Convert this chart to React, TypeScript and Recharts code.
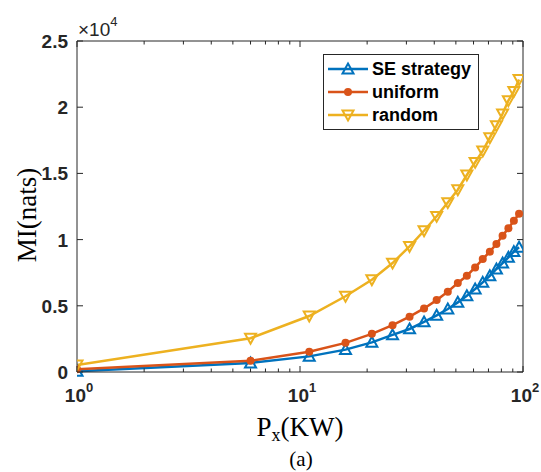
import { LineChart, Line, XAxis, YAxis, ReferenceLine, Legend } from 'recharts';

// Px (KW) sample points
const xValues = [1, 6, 11, 16, 21, 26, 31, 36, 41, 46, 51, 56, 61, 66, 71, 76, 81, 86, 91, 96];

const seStrategy = [50, 680, 1180, 1690, 2240, 2800, 3250, 3780, 4280, 4760, 5260, 5760, 6270, 6770, 7270, 7780, 8230, 8660, 9090, 9420];
const uniform = [200, 850, 1530, 2200, 2880, 3540, 4180, 4800, 5430, 6070, 6720, 7270, 7900, 8530, 9090, 9670, 10300, 10850, 11430, 11950];
const random = [530, 2550, 4230, 5720, 6970, 8230, 9490, 10670, 11760, 12800, 13770, 14880, 15840, 16700, 17700, 18600, 19500, 20500, 21200, 22100];

const xTicks = [1, 2, 3, 4, 5, 6, 7, 8, 9, 10, 20, 30, 40, 50, 60, 70, 80, 90, 100];
const xMajor = [1, 10, 100];
const yTicks = [0, 5000, 10000, 15000, 20000, 25000];
const yTickLabels = ['0', '0.5', '1', '1.5', '2', '2.5'];

const BLUE = '#0072BD';
const ORANGE = '#D95319';
const YELLOW = '#EDB120';
const AXIS = '#262626';
const SANS = '"Liberation Sans", Arial, Helvetica, sans-serif';
const SERIF = '"Liberation Serif", "Times New Roman", serif';

const PLOT_W = 446;
const PLOT_H = 331;

const data = xValues.map((x, i) => ({
  x,
  se: seStrategy[i],
  uniform: uniform[i],
  random: random[i],
}));

function UpTri({ cx, cy, color }: { cx: number; cy: number; color: string }) {
  const s = 5.5;
  return (
    <path
      d={`M${cx},${cy - s} L${cx + s},${cy + s * 0.8} L${cx - s},${cy + s * 0.8} Z`}
      fill="none"
      stroke={color}
      strokeWidth={2}
    />
  );
}

function DownTri({ cx, cy, color }: { cx: number; cy: number; color: string }) {
  const s = 5.5;
  return (
    <path
      d={`M${cx},${cy + s} L${cx + s},${cy - s * 0.8} L${cx - s},${cy - s * 0.8} Z`}
      fill="none"
      stroke={color}
      strokeWidth={2}
    />
  );
}

function XTick(props: any) {
  const { x, y, payload } = props;
  const v = payload.value;
  const major = xMajor.includes(v);
  const len = major ? 6 : 3.5;
  return (
    <g>
      <line x1={x} y1={y} x2={x} y2={y - len} stroke={AXIS} strokeWidth={1} />
      <line x1={x} y1={y - PLOT_H} x2={x} y2={y - PLOT_H + len} stroke={AXIS} strokeWidth={1} />
      {major && (
        <text x={x + 2} y={y + 30} textAnchor="middle" fontFamily={SANS} fontWeight="bold" fontSize={19} fill={AXIS}>
          10
          <tspan dy={-10} fontSize={13}>
            {Math.round(Math.log10(v))}
          </tspan>
        </text>
      )}
    </g>
  );
}

function YTick(props: any) {
  const { x, y, payload, index } = props;
  return (
    <g>
      <line x1={x} y1={y} x2={x + 6} y2={y} stroke={AXIS} strokeWidth={1} />
      <line x1={x + PLOT_W} y1={y} x2={x + PLOT_W - 6} y2={y} stroke={AXIS} strokeWidth={1} />
      <text x={x - 9} y={y + 7} textAnchor="end" fontFamily={SANS} fontWeight="bold" fontSize={19} fill={AXIS}>
        {yTickLabels[index] ?? payload.value}
      </text>
    </g>
  );
}

const legendItems = [
  { name: 'SE strategy', color: BLUE, marker: 'up' },
  { name: 'uniform', color: ORANGE, marker: 'dot' },
  { name: 'random', color: YELLOW, marker: 'down' },
];

function LegendBox() {
  return (
    <svg width={156} height={76}>
      <rect x={0.5} y={0.5} width={155} height={75} fill="#fff" stroke={AXIS} strokeWidth={1} />
      {legendItems.map((it, i) => {
        const cy = 15 + i * 23;
        return (
          <g key={it.name}>
            <line x1={5} y1={cy} x2={45} y2={cy} stroke={it.color} strokeWidth={2.5} />
            {it.marker === 'up' && <UpTri cx={25} cy={cy} color={it.color} />}
            {it.marker === 'dot' && <circle cx={25} cy={cy} r={4} fill={it.color} />}
            {it.marker === 'down' && <DownTri cx={25} cy={cy} color={it.color} />}
            <text x={49} y={cy + 6} fontFamily={SANS} fontWeight="bold" fontSize={18} fill="#000">
              {it.name}
            </text>
          </g>
        );
      })}
    </svg>
  );
}

export default function App() {
  return (
    <div style={{ position: 'absolute', left: 0, top: 0, width: 541, height: 472, background: '#fff' }}>
      <LineChart width={541} height={472} data={data} margin={{ top: 41, right: 18, left: 0, bottom: 0 }}>
        <XAxis
          dataKey="x"
          type="number"
          scale="log"
          domain={[1, 100]}
          ticks={xTicks}
          interval={0}
          tick={<XTick />}
          tickSize={0}
          tickMargin={0}
          tickLine={false}
          axisLine={{ stroke: AXIS }}
          height={100}
          allowDataOverflow
        />
        <YAxis
          type="number"
          domain={[0, 25000]}
          ticks={yTicks}
          interval={0}
          tick={<YTick />}
          tickSize={0}
          tickMargin={0}
          tickLine={false}
          axisLine={{ stroke: AXIS }}
          width={77}
        />
        <ReferenceLine y={25000} stroke={AXIS} strokeWidth={1} />
        <ReferenceLine x={100} stroke={AXIS} strokeWidth={1} />
        <Line
          dataKey="se"
          stroke={BLUE}
          strokeWidth={2.5}
          isAnimationActive={false}
          dot={(p: any) => <UpTri key={`se${p.index}`} cx={p.cx} cy={p.cy} color={BLUE} />}
        />
        <Line
          dataKey="uniform"
          stroke={ORANGE}
          strokeWidth={2.5}
          isAnimationActive={false}
          dot={(p: any) => <circle key={`u${p.index}`} cx={p.cx} cy={p.cy} r={4} fill={ORANGE} />}
        />
        <Line
          dataKey="random"
          stroke={YELLOW}
          strokeWidth={2.5}
          isAnimationActive={false}
          dot={(p: any) => <DownTri key={`r${p.index}`} cx={p.cx} cy={p.cy} color={YELLOW} />}
        />
        <Legend
          layout="horizontal"
          verticalAlign="middle"
          align="center"
          wrapperStyle={{ position: 'absolute', left: 323, top: 54, width: 156, height: 76 }}
          content={() => <LegendBox />}
        />
      </LineChart>
      <svg
        width={541}
        height={472}
        style={{ position: 'absolute', left: 0, top: 0, pointerEvents: 'none' }}
      >
        <text x={78} y={36} fontFamily={SANS} fontSize={19} fill={AXIS}>
          ×10
          <tspan dy={-10} fontSize={13}>4</tspan>
        </text>
        <text
          transform="translate(36,215) rotate(-90)"
          textAnchor="middle"
          fontFamily={SERIF}
          fontSize={27}
          fill="#000"
        >
          MI(nats)
        </text>
        <text x={300} y={436} textAnchor="middle" fontFamily={SERIF} fontSize={27} fill="#000">
          P
          <tspan dy={5} fontSize={18}>x</tspan>
          <tspan dy={-5}>(KW)</tspan>
        </text>
        <text x={301} y={466} textAnchor="middle" fontFamily={SERIF} fontSize={21} fill="#000">
          (a)
        </text>
      </svg>
    </div>
  );
}
